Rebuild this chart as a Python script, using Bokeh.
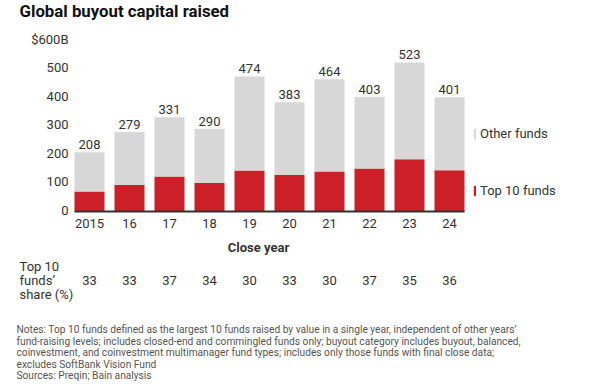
from bokeh.plotting import figure
from bokeh.models import (ColumnDataSource, Label, LabelSet, Legend, LegendItem, Range1d)
from bokeh.core.properties import value
from bokeh.embed import file_html
from bokeh.resources import INLINE

# ---- data ----
years = ["2015", "16", "17", "18", "19", "20", "21", "22", "23", "24"]
totals = [208, 279, 331, 290, 474, 383, 464, 403, 523, 401]
top10 = [70, 93, 123, 100, 144, 128, 140, 151, 183, 145]
share = [33, 33, 37, 34, 30, 33, 30, 37, 35, 36]
y_ticks = [0, 100, 200, 300, 400, 500, 600]
y_tick_labels = ["0", "100", "200", "300", "400", "500", "$600B"]

title = "Global buyout capital raised"
notes = [
    "Notes: Top 10 funds defined as the largest 10 funds raised by value in a single year, independent of other years\u2019",
    "fund-raising levels; includes closed-end and commingled funds only; buyout category includes buyout, balanced,",
    "coinvestment, and coinvestment multimanager fund types; includes only those funds with final close data;",
    "excludes SoftBank Vision Fund",
    "Sources: Preqin; Bain analysis",
]

W, H = 602, 387
OFF = 0                 # where the canvas sits on the page
FONT = "Roboto"
TXT = "#333333"
GRAY = "#d7d7d7"
RED = "#cc1f27"
BAR_W = 0.75

# page-pixel layout -> data ranges (frame fills the whole canvas)
X0_PAGE, DX = 89, 40          # centre of first bar, spacing between bars
BASE_PAGE, PX_PER_UNIT = 211, 0.285


def sy(page_y):
    return H - (page_y - OFF)


def sx(page_x):
    return page_x - OFF


x_start = -(sx(X0_PAGE)) / DX
x_end = (W - sx(X0_PAGE)) / DX
y_end = (BASE_PAGE - OFF) / PX_PER_UNIT
y_start = -(H - (BASE_PAGE - OFF)) / PX_PER_UNIT

xs = list(range(len(years)))
src = ColumnDataSource(dict(x=xs, total=totals, top10=top10,
                            share=[str(s) for s in share],
                            lbl=[str(t) for t in totals], year=years))
ysrc = ColumnDataSource(dict(y=y_ticks, lbl=y_tick_labels))

p = figure(width=W, height=H, output_backend="svg", toolbar_location=None,
           x_range=Range1d(x_start, x_end), y_range=Range1d(y_start, y_end),
           min_border=0)
p.axis.visible = False
p.outline_line_color = None
p.grid.visible = False
p.background_fill_color = "white"
p.border_fill_color = "white"

r_top = p.vbar(x="x", top="top10", bottom=0, width=BAR_W, source=src,
               fill_color=RED, line_color=None)
r_oth = p.vbar(x="x", top="total", bottom="top10", width=BAR_W, source=src,
               fill_color=GRAY, line_color=None)

# baseline (x axis line)
p.segment(x0=[xs[0] - BAR_W / 2], x1=[xs[-1] + BAR_W / 2], y0=[0], y1=[0],
          line_color="#333333", line_width=2)

common = dict(text_font=value(FONT), text_font_size="13px", text_color=TXT)

# y tick labels
p.add_layout(LabelSet(x=sx(68), x_units="screen", y="y", text="lbl", source=ysrc,
                      y_offset=1.5, text_align="right", text_baseline="middle", **common))

# x tick labels
p.add_layout(LabelSet(x="x", y=0, text="year", source=src, y_offset=-12,
                      text_align="center", text_baseline="middle", **common))

# bar totals
p.add_layout(LabelSet(x="x", y="total", text="lbl", source=src, y_offset=3,
                      text_align="center", text_baseline="alphabetic", **common))

# share row
p.add_layout(LabelSet(x="x", y=sy(280), y_units="screen", text="share", source=src,
                      text_align="center", text_baseline="middle", **common))

for i, line in enumerate(["Top 10", "funds\u2019", "share (%)"]):
    p.add_layout(Label(x=sx(19), y=sy(266 + 14 * i), x_units="screen", y_units="screen",
                       text=line, text_baseline="middle", text_font=FONT,
                       text_font_size="13px", text_color=TXT))

p.add_layout(Label(x=sx(258), y=sy(247), x_units="screen", y_units="screen",
                   text="Close year", text_align="center", text_baseline="middle",
                   text_font=FONT, text_font_style="bold", text_font_size="13px",
                   text_color=TXT))

p.add_layout(Label(x=sx(19), y=sy(10), x_units="screen", y_units="screen",
                   text=title, text_baseline="middle", text_font=FONT,
                   text_font_style="bold", text_font_size="16.8px", text_color="#111111"))

for i, line in enumerate(notes):
    p.add_layout(Label(x=sx(16), y=sy(329 + 11.5 * i), x_units="screen", y_units="screen",
                       text=line, text_baseline="middle", text_font=FONT,
                       text_font_size="10.2px", text_color="#555555"))

legend = Legend(items=[LegendItem(label="Other funds", renderers=[r_oth]),
                       LegendItem(label="Top 10 funds", renderers=[r_top])],
                location=(sx(473), sy(200)), orientation="vertical",
                glyph_width=3, glyph_height=13, label_height=20, spacing=37,
                label_standoff=4, padding=0, margin=0,
                border_line_color=None, background_fill_alpha=0,
                label_text_font=FONT, label_text_font_size="13px", label_text_color=TXT)
p.add_layout(legend, "center")

open("out.html", "w").write(file_html(p, INLINE))
